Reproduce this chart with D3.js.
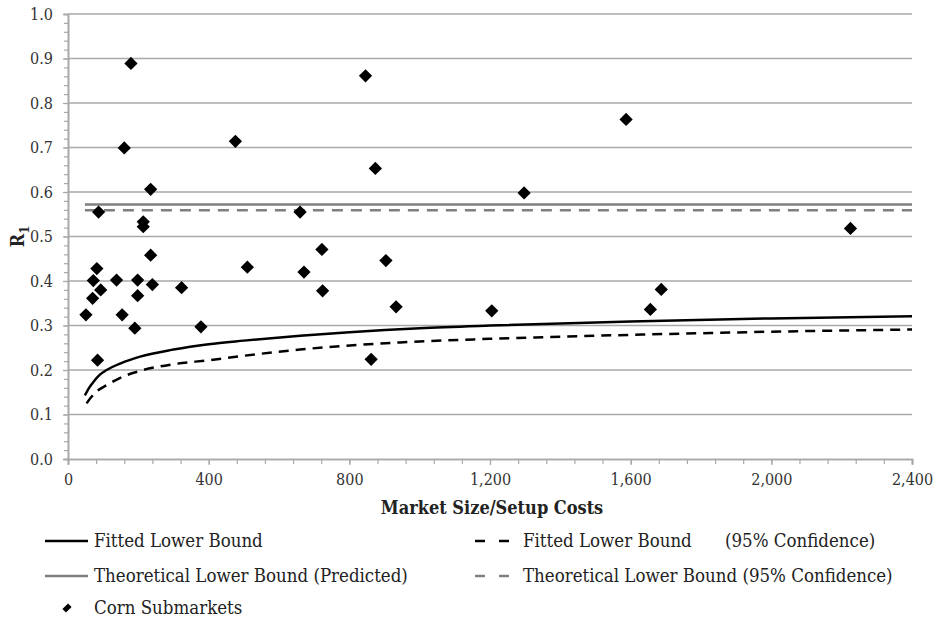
<!DOCTYPE html>
<html>
<head>
<meta charset="utf-8">
<script src="https://cdn.jsdelivr.net/npm/d3@7"></script>
<style>
  body { margin: 0; background: #fff; }
  text { font-family: "DejaVu Serif Condensed", "DejaVu Serif", serif; font-stretch: condensed; fill: #222; }
</style>
</head>
<body>
<script>
"use strict";

// tick values
var xTicks = [0, 400, 800, 1200, 1600, 2000, 2400];
var yTicks = [0, 0.1, 0.2, 0.3, 0.4, 0.5, 0.6, 0.7, 0.8, 0.9, 1.0];

// corn submarkets (market size / setup costs, R1)
var marketSize = [51, 70, 72, 82, 93, 84, 87, 138, 154, 160, 179, 190, 198, 198, 214, 214, 235, 235, 240,
                  323, 378, 476, 510, 660, 671, 722, 724, 846, 862, 874, 904, 933, 1205, 1297, 1587, 1656, 1687, 2225];
var r1 = [0.324, 0.361, 0.401, 0.428, 0.380, 0.222, 0.555, 0.402, 0.324, 0.699, 0.889, 0.294, 0.402, 0.367, 0.533, 0.522, 0.458, 0.606, 0.392,
          0.385, 0.297, 0.714, 0.431, 0.555, 0.420, 0.471, 0.378, 0.861, 0.224, 0.653, 0.446, 0.342, 0.333, 0.598, 0.763, 0.336, 0.381, 0.518];

// fitted lower bound
var fittedX = [48, 60, 75, 90, 110, 150, 205, 300, 400, 500, 660, 800, 1000, 1200, 1600, 2000, 2400];
var fittedY = [0.143, 0.160, 0.176, 0.189, 0.200, 0.215, 0.230, 0.246, 0.258, 0.266, 0.277, 0.285, 0.294, 0.300, 0.309, 0.316, 0.321];
// fitted lower bound, 95% confidence
var fittedCiX = [53, 65, 80, 110, 150, 205, 300, 400, 500, 660, 944, 1200, 1600, 2000, 2400];
var fittedCiY = [0.125, 0.138, 0.151, 0.166, 0.183, 0.198, 0.213, 0.222, 0.232, 0.246, 0.262, 0.270, 0.279, 0.286, 0.291];

// theoretical lower bound
var theoryStart = 48, theoryEnd = 2400;
var theoryPredicted = 0.572;
var theoryCi = 0.559;

var legendLabels = ["Fitted Lower Bound", "Fitted Lower Bound", "Theoretical Lower Bound (Predicted)",
                    "Theoretical Lower Bound (95% Confidence)", "Corn Submarkets"];

var width = 935, height = 620;
var svg = d3.select("body").append("svg").attr("width", width).attr("height", height);

var x = d3.scaleLinear().domain([0, 2400]).range([68, 912]);
var y = d3.scaleLinear().domain([0, 1]).range([459, 14]);

var gridColor = "#a8a8a8";

// gridlines
svg.append("g").selectAll("line").data(yTicks.slice(1)).enter().append("line")
  .attr("x1", x(0)).attr("x2", x(2400))
  .attr("y1", d => y(d)).attr("y2", d => y(d))
  .attr("stroke", gridColor).attr("stroke-width", 1.6);

// y axis
var yAxis = svg.append("g").attr("transform", "translate(" + x(0) + ",0)")
  .call(d3.axisLeft(y).tickValues(yTicks).tickFormat(d3.format(".1f")).tickSize(5).tickPadding(10));
yAxis.selectAll("text").style("font-size", "16px");
svg.append("g").attr("transform", "translate(" + x(0) + ",0)")
  .call(d3.axisLeft(y).tickValues(d3.range(0, 1.001, 0.02)).tickFormat("").tickSize(4));

// x axis
var xAxis = svg.append("g").attr("transform", "translate(0," + y(0) + ")")
  .call(d3.axisBottom(x).tickValues(xTicks).tickFormat(d3.format(",")).tickSize(6).tickPadding(9));
xAxis.selectAll("text").style("font-size", "16px");
svg.append("g").attr("transform", "translate(0," + y(0) + ")")
  .call(d3.axisBottom(x).tickValues(d3.range(0, 2401, 80)).tickFormat("").tickSize(5));

svg.selectAll(".domain").attr("stroke", gridColor).attr("stroke-width", 1.6);
svg.selectAll(".tick line").attr("stroke", gridColor).attr("stroke-width", 1.2);
svg.selectAll(".tick text").style("fill", "#333");

// axis titles
svg.append("text").attr("x", 492).attr("y", 514).attr("text-anchor", "middle")
  .style("font-size", "18px").style("font-weight", "bold").text("Market Size/Setup Costs");
var yTitle = svg.append("text").attr("transform", "translate(24," + y(0.5) + ") rotate(-90)")
  .attr("text-anchor", "middle").style("font-size", "18px").style("font-weight", "bold");
yTitle.append("tspan").text("R");
yTitle.append("tspan").attr("dy", 5).style("font-size", "13px").text("1");

// theoretical lower bound lines
svg.append("line").attr("x1", x(theoryStart)).attr("x2", x(theoryEnd))
  .attr("y1", y(theoryPredicted)).attr("y2", y(theoryPredicted))
  .attr("stroke", "#7f7f7f").attr("stroke-width", 2.5);
svg.append("line").attr("x1", x(theoryStart)).attr("x2", x(theoryEnd))
  .attr("y1", y(theoryCi)).attr("y2", y(theoryCi))
  .attr("stroke", "#7f7f7f").attr("stroke-width", 2.5).attr("stroke-dasharray", "11,8");

// fitted curves
var line = d3.line().x(d => x(d[0])).y(d => y(d[1])).curve(d3.curveMonotoneX);
svg.append("path").datum(d3.zip(fittedX, fittedY)).attr("d", line)
  .attr("fill", "none").attr("stroke", "#000").attr("stroke-width", 2.5);
svg.append("path").datum(d3.zip(fittedCiX, fittedCiY)).attr("d", line)
  .attr("fill", "none").attr("stroke", "#000").attr("stroke-width", 2.5).attr("stroke-dasharray", "10,7");

// corn submarkets
var diamond = d3.symbol().type(d3.symbolSquare).size(88);
svg.append("g").selectAll("path").data(d3.zip(marketSize, r1)).enter().append("path")
  .attr("d", diamond)
  .attr("transform", d => "translate(" + x(d[0]) + "," + y(d[1]) + ") rotate(45)")
  .attr("fill", "#000");

// legend
var lg = svg.append("g").style("font-size", "18.5px");
function legendLine(x1, x2, yy, color, dash) {
  lg.append("line").attr("x1", x1).attr("x2", x2).attr("y1", yy).attr("y2", yy)
    .attr("stroke", color).attr("stroke-width", 2.5).attr("stroke-dasharray", dash);
}
legendLine(45, 88, 541, "#000", null);
lg.append("text").attr("x", 94).attr("y", 547).text(legendLabels[0]);
legendLine(475, 509, 541, "#000", "10,14");
lg.append("text").attr("x", 523).attr("y", 547).text(legendLabels[1]);
lg.append("text").attr("x", 725).attr("y", 547).text("(95% Confidence)");
legendLine(45, 88, 576, "#7f7f7f", null);
lg.append("text").attr("x", 94).attr("y", 582).text(legendLabels[2]);
legendLine(475, 509, 576, "#7f7f7f", "10,14");
lg.append("text").attr("x", 523).attr("y", 582).text(legendLabels[3]);
lg.append("path").attr("d", d3.symbol().type(d3.symbolSquare).size(40))
  .attr("transform", "translate(67,608) rotate(45) scale(0.8,1.25)").attr("fill", "#000");
lg.append("text").attr("x", 94).attr("y", 614).text(legendLabels[4]);
</script>
</body>
</html>
